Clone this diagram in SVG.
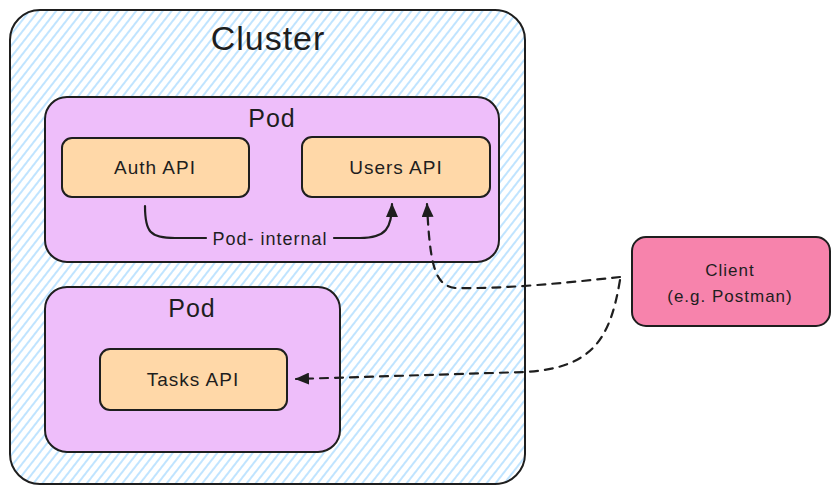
<svg xmlns="http://www.w3.org/2000/svg" width="840" height="493" viewBox="0 0 840 493">
<style>
.box{stroke:#1e1e1e;stroke-width:2}
.t{font-family:"Liberation Sans",Arial,sans-serif;fill:#1e1e1e;text-anchor:middle;dominant-baseline:central;letter-spacing:1px}
.c{fill:none;stroke:#1e1e1e;stroke-width:2.2;stroke-linecap:round}
.d{stroke-dasharray:8 7}
</style>
<defs>
<pattern id="hatch" width="7" height="7" patternUnits="userSpaceOnUse" patternTransform="rotate(38)">
<line x1="2" y1="0" x2="2" y2="7" stroke="#a5d8ff" stroke-width="1.4"/>
</pattern>
<marker id="ah" viewBox="0 0 14 12" refX="13" refY="6" markerWidth="14" markerHeight="12" markerUnits="userSpaceOnUse" orient="auto">
<path d="M0,0 L14,6 L0,12 Z" fill="#1e1e1e"/>
</marker>
</defs>
<rect width="840" height="493" fill="#ffffff"/>
<g id="cluster">
<rect x="10" y="10" width="515" height="474" rx="30" fill="url(#hatch)" class="box"/>
<text x="268" y="38" class="t" font-size="34">Cluster</text>
</g>
<g id="pod1">
<rect x="45" y="97" width="454" height="165" rx="22" fill="#eebefa" class="box"/>
<text x="272" y="118" class="t" font-size="25">Pod</text>
</g>
<g id="auth-api">
<rect x="62" y="138" width="187" height="59" rx="10" fill="#ffd8a8" class="box"/>
<text x="155" y="167" class="t" font-size="19">Auth API</text>
</g>
<g id="users-api">
<rect x="302" y="137" width="188" height="60" rx="10" fill="#ffd8a8" class="box"/>
<text x="396" y="167" class="t" font-size="19">Users API</text>
</g>
<g id="pod2">
<rect x="45" y="287" width="295" height="165" rx="22" fill="#eebefa" class="box"/>
<text x="192" y="308" class="t" font-size="25">Pod</text>
</g>
<g id="tasks-api">
<rect x="100" y="349" width="187" height="61" rx="10" fill="#ffd8a8" class="box"/>
<text x="193" y="379" class="t" font-size="19">Tasks API</text>
</g>
<g id="client">
<rect x="632" y="237" width="198" height="89" rx="14" fill="#f783ac" class="box"/>
<text x="730" y="270" class="t" font-size="17">Client</text>
<text x="730" y="296" class="t" font-size="17">(e.g. Postman)</text>
</g>
<g id="connectors">
<path class="c" d="M145,206 C145,232 150,238 175,238 L206,238"/>
<path class="c" d="M334,238 L360,238 C386,238 392,228 392,204" marker-end="url(#ah)"/>
<text x="270" y="239" class="t" font-size="18">Pod- internal</text>
<path class="c d" d="M620,277 C565,283 505,289 455,288 C436,285 430,270 427,204" marker-end="url(#ah)"/>
<path class="c d" d="M620,280 C610,340 592,368 525,372 L296,379" marker-end="url(#ah)"/>
</g>
</svg>
